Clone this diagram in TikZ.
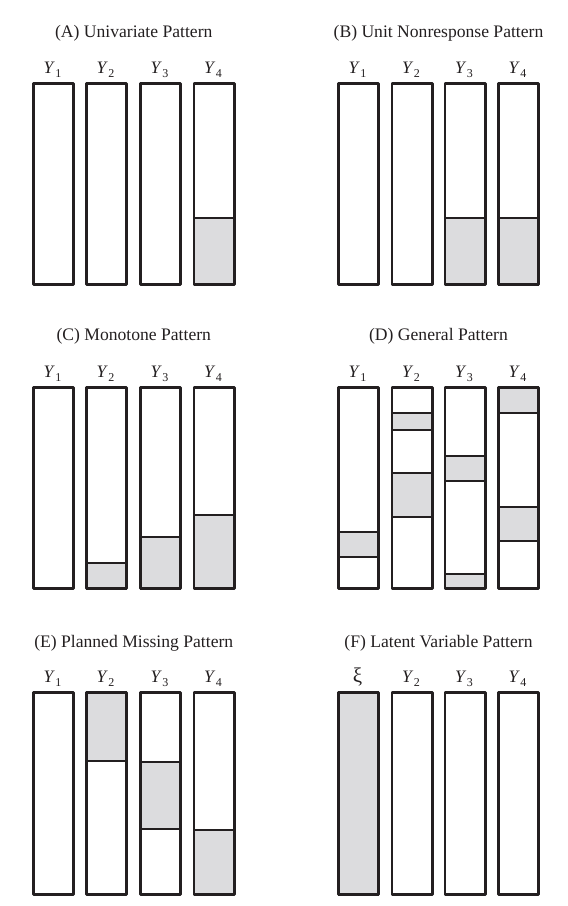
\documentclass[tikz,border=0pt]{standalone}
\usepackage{fontspec}
\setmainfont{Liberation Serif}
\definecolor{missgray}{RGB}{220,220,222}
\definecolor{inkc}{RGB}{35,31,32}
\newcommand\gseg[3]{%
  \fill[miss] (#1-20.2,#2) rectangle (#1+20.2,#3);
  \draw[sep] (#1-20.2,#2) -- (#1+20.2,#2) (#1-20.2,#3) -- (#1+20.2,#3);}
\newcommand\colrect[5]{%
  \draw[colbox] (#2-20.2,#3) rectangle (#2+20.2,#4);
  \node[lbl] (#1) at (#2-1,#3-10.3) {#5};}
\newcommand\yl[1]{\textit{Y}\kern0.3pt\raisebox{-4pt}{\fontsize{12}{13}\selectfont #1}}
\begin{document}
\begin{tikzpicture}[x=1pt,y=-1pt,
  colbox/.style={draw=inkc, line width=2.6pt, line join=round},
  miss/.style={fill=missgray},
  sep/.style={draw=inkc, line width=2.6pt},
  ttl/.style={font=\fontsize{17.6}{20}\selectfont, anchor=base, inner sep=0pt, text=inkc},
  lbl/.style={font=\fontsize{17.5}{20}\selectfont, anchor=base, inner sep=0pt, text=inkc}]
\useasboundingbox (0,0) rectangle (568,906);
% ---------- (A)
\node[ttl] (tA) at (133.75,37) {(A) Univariate Pattern};
\gseg{214}{218}{284.7}
\colrect{A1}{53.5}{83.3}{284.7}{\yl{1}}
\colrect{A2}{106.5}{83.3}{284.7}{\yl{2}}
\colrect{A3}{160.5}{83.3}{284.7}{\yl{3}}
\colrect{A4}{214}{83.3}{284.7}{\yl{4}}
% ---------- (B)
\node[ttl] (tB) at (438.5,37) {(B) Unit Nonresponse Pattern};
\gseg{465}{218}{284.7}
\gseg{518.5}{218}{284.7}
\colrect{B1}{358.5}{83.3}{284.7}{\yl{1}}
\colrect{B2}{412}{83.3}{284.7}{\yl{2}}
\colrect{B3}{465}{83.3}{284.7}{\yl{3}}
\colrect{B4}{518.5}{83.3}{284.7}{\yl{4}}
% ---------- (C)
\node[ttl] (tC) at (133.75,340) {(C) Monotone Pattern};
\gseg{106.5}{563}{588.7}
\gseg{160.5}{537}{588.7}
\gseg{214}{515}{588.7}
\colrect{C1}{53.5}{387.3}{588.7}{\yl{1}}
\colrect{C2}{106.5}{387.3}{588.7}{\yl{2}}
\colrect{C3}{160.5}{387.3}{588.7}{\yl{3}}
\colrect{C4}{214}{387.3}{588.7}{\yl{4}}
% ---------- (D)
\node[ttl] (tD) at (438.5,340) {(D) General Pattern};
\gseg{358.5}{532}{557}
\gseg{412}{413}{430}
\gseg{412}{473}{517}
\gseg{465}{456}{481}
\gseg{465}{574}{588.7}
\gseg{518.5}{387.3}{413}
\gseg{518.5}{507}{541}
\colrect{D1}{358.5}{387.3}{588.7}{\yl{1}}
\colrect{D2}{412}{387.3}{588.7}{\yl{2}}
\colrect{D3}{465}{387.3}{588.7}{\yl{3}}
\colrect{D4}{518.5}{387.3}{588.7}{\yl{4}}
% ---------- (E)
\node[ttl] (tE) at (133.75,647) {(E) Planned Missing Pattern};
\gseg{106.5}{692.3}{761}
\gseg{160.5}{762}{829}
\gseg{214}{830}{894.7}
\colrect{E1}{53.5}{692.3}{894.7}{\yl{1}}
\colrect{E2}{106.5}{692.3}{894.7}{\yl{2}}
\colrect{E3}{160.5}{692.3}{894.7}{\yl{3}}
\colrect{E4}{214}{692.3}{894.7}{\yl{4}}
% ---------- (F)
\node[ttl] (tF) at (438.5,647) {(F) Latent Variable Pattern};
\gseg{358.5}{692.3}{894.7}
\colrect{F1}{358.5}{692.3}{894.7}{\fontsize{21}{22}\selectfont ξ}
\colrect{F2}{412}{692.3}{894.7}{\yl{2}}
\colrect{F3}{465}{692.3}{894.7}{\yl{3}}
\colrect{F4}{518.5}{692.3}{894.7}{\yl{4}}
\end{tikzpicture}
\end{document}
